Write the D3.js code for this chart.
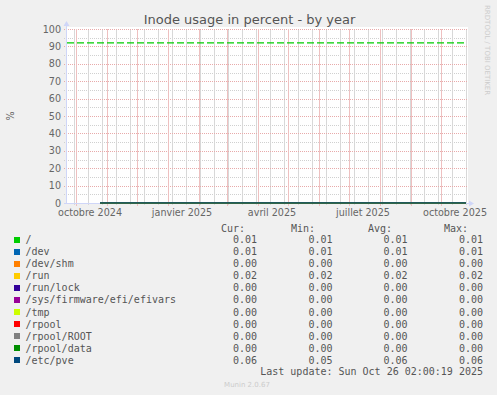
<!DOCTYPE html>
<html><head><meta charset="utf-8">
<script src="https://cdn.jsdelivr.net/npm/d3@7"></script>
<style>
html,body{margin:0;padding:0;background:#F0F0F0;}
svg{display:block;}
</style></head>
<body>
<script>
// ---- data ----
const title = "Inode usage in percent - by year";
const yLabel = "%";
const yTicks = [0,10,20,30,40,50,60,70,80,90,100];
const yMinorTicks = [5,15,25,35,45,55,65,75,85,95];
const xLabelTexts = ["octobre 2024","janvier 2025","avril 2025","juillet 2025","octobre 2025"];
const xLabelDates = ["2024-10-15","2025-01-15","2025-04-15","2025-07-15","2025-10-15"];
const timeStart = "2024-09-22T00:00:00Z";
const timeEnd = "2025-10-27T00:00:00Z";
const warningLevels = [92];

const seriesNames = ["/","/dev","/dev/shm","/run","/run/lock","/sys/firmware/efi/efivars","/tmp","/rpool","/rpool/ROOT","/rpool/data","/etc/pve"];
const seriesColors = ["#00CC00","#0066B3","#FF8000","#FFCC00","#330099","#990099","#CCFF00","#FF0000","#808080","#008F00","#00487D"];
const curValues = ["0.01","0.01","0.00","0.02","0.00","0.00","0.00","0.00","0.00","0.00","0.06"];
const minValues = ["0.01","0.01","0.00","0.02","0.00","0.00","0.00","0.00","0.00","0.00","0.05"];
const avgValues = ["0.01","0.01","0.00","0.02","0.00","0.00","0.00","0.00","0.00","0.00","0.06"];
const maxValues = ["0.01","0.01","0.00","0.02","0.00","0.00","0.00","0.00","0.00","0.00","0.06"];

const sampleDates = ["2024-10-25","2024-11-25","2024-12-25","2025-01-25","2025-02-25","2025-03-25","2025-04-25","2025-05-25","2025-06-25","2025-07-25","2025-08-25","2025-09-25","2025-10-26"];
const seriesValues = [
  [0.01,0.01,0.01,0.01,0.01,0.01,0.01,0.01,0.01,0.01,0.01,0.01,0.01],
  [0.01,0.01,0.01,0.01,0.01,0.01,0.01,0.01,0.01,0.01,0.01,0.01,0.01],
  [0.00,0.00,0.00,0.00,0.00,0.00,0.00,0.00,0.00,0.00,0.00,0.00,0.00],
  [0.02,0.02,0.02,0.02,0.02,0.02,0.02,0.02,0.02,0.02,0.02,0.02,0.02],
  [0.00,0.00,0.00,0.00,0.00,0.00,0.00,0.00,0.00,0.00,0.00,0.00,0.00],
  [0.00,0.00,0.00,0.00,0.00,0.00,0.00,0.00,0.00,0.00,0.00,0.00,0.00],
  [0.00,0.00,0.00,0.00,0.00,0.00,0.00,0.00,0.00,0.00,0.00,0.00,0.00],
  [0.00,0.00,0.00,0.00,0.00,0.00,0.00,0.00,0.00,0.00,0.00,0.00,0.00],
  [0.00,0.00,0.00,0.00,0.00,0.00,0.00,0.00,0.00,0.00,0.00,0.00,0.00],
  [0.00,0.00,0.00,0.00,0.00,0.00,0.00,0.00,0.00,0.00,0.00,0.00,0.00],
  [0.05,0.06,0.06,0.06,0.06,0.06,0.06,0.06,0.06,0.06,0.06,0.06,0.06]
];
const footerUpdate = "Last update: Sun Oct 26 02:00:19 2025";
const footerVersion = "Munin 2.0.67";
const sideText = "RRDTOOL / TOBI OETIKER";

// ---- layout ----
const W = 497, H = 395;
const L = 67, R = 467, T = 29, B = 203;
const fontSans = "'DejaVu Sans', sans-serif";
const fontMono = "'DejaVu Sans Mono', monospace";

const svg = d3.select("body").append("svg").attr("width", W).attr("height", H);
svg.append("rect").attr("width", W).attr("height", H).attr("fill", "#F0F0F0");

const x = d3.scaleUtc().domain([new Date(timeStart), new Date(timeEnd)]).range([L, R]);
const y = d3.scaleLinear().domain([0, 100]).range([B, T]);

// canvas
svg.append("rect").attr("x", L).attr("y", T - 2).attr("width", R - L + 1).attr("height", B - T + 2).attr("fill", "#FFFFFF");

const minorColorH = "#d0d0d0", majorColorH = "#e8aaaa";
const minorColorV = "#d8d8d8", majorColorV = "#eec0c0";
const grid = svg.append("g");
const px = v => Math.round(v) + 0.5;
// minor horizontal
grid.selectAll(".hmin").data(yMinorTicks).enter().append("line")
  .attr("x1", L - 3).attr("x2", R).attr("y1", d => px(y(d))).attr("y2", d => px(y(d)))
  .attr("stroke", minorColorH).attr("stroke-dasharray", "1,1");
// minor vertical (every 2 weeks)
const minorDates = d3.utcDay.range(new Date("2024-09-29T00:00:00Z"), new Date(timeEnd), 1)
  .filter(d => Math.round((d - new Date("2024-09-29T00:00:00Z")) / 864e5) % 14 === 0);
grid.selectAll(".vmin").data(minorDates).enter().append("line")
  .attr("x1", d => px(x(d))).attr("x2", d => px(x(d)))
  .attr("y1", T).attr("y2", B + 2)
  .attr("stroke", minorColorV);
// major horizontal
grid.selectAll(".hmaj").data(yTicks).enter().append("line")
  .attr("x1", L - 3).attr("x2", R).attr("y1", d => px(y(d))).attr("y2", d => px(y(d)))
  .attr("stroke", majorColorH).attr("stroke-dasharray", "1,1");
// major vertical (months)
const monthDates = d3.utcMonth.range(new Date(timeStart), new Date(timeEnd));
grid.selectAll(".vmaj").data(monthDates).enter().append("line")
  .attr("x1", d => px(x(d))).attr("x2", d => px(x(d)))
  .attr("y1", T).attr("y2", B + 3)
  .attr("stroke", majorColorV);

// warning line
svg.selectAll(".warn").data(warningLevels).enter().append("line")
  .attr("x1", L).attr("x2", R - 3).attr("y1", d => y(d)).attr("y2", d => y(d))
  .attr("stroke", "#00CC00").attr("stroke-width", 1.3).attr("stroke-dasharray", "7,3");

// axes
const axisColor = "#CFD6F8";
svg.append("line").attr("x1", L - 0.5).attr("x2", L - 0.5).attr("y1", B + 0.5).attr("y2", T - 6)
  .attr("stroke", axisColor).attr("stroke-width", 1);
svg.append("line").attr("x1", L - 3).attr("x2", R + 2).attr("y1", B + 0.5).attr("y2", B + 0.5)
  .attr("stroke", axisColor).attr("stroke-width", 1);
svg.append("path").attr("d", `M${L-3.5},${T-3} L${L+2.5},${T-3} L${L-0.5},${T-8} Z`).attr("fill", axisColor);
svg.append("path").attr("d", `M${R+2},${B-2.5} L${R+2},${B+3.5} L${R+7},${B+0.5} Z`).attr("fill", axisColor);

// series lines
const parsedDates = sampleDates.map(s => new Date(s + "T00:00:00Z"));
const lineGen = d3.line().x(d => x(d[0])).y(d => y(d[1]));
seriesValues.forEach((vals, i) => {
  svg.append("path")
    .datum(vals.map((v, j) => [parsedDates[j], v]))
    .attr("d", lineGen).attr("fill", "none")
    .attr("stroke", seriesColors[i]).attr("stroke-width", 1);
});

// y tick labels
svg.selectAll(".ylab").data(yTicks).enter().append("text")
  .attr("x", 61).attr("y", d => y(d) + 3.5).attr("text-anchor", "end")
  .attr("font-family", fontSans).attr("font-size", "9.6px").attr("fill", "#666666")
  .text(d => d);

// x labels
svg.selectAll(".xlab").data(xLabelTexts).enter().append("text")
  .attr("x", (d, i) => x(new Date(xLabelDates[i] + "T00:00:00Z"))).attr("y", 216)
  .attr("text-anchor", "middle")
  .attr("font-family", fontSans).attr("font-size", "9.6px").attr("fill", "#666666")
  .text(d => d);

// title
svg.append("text").attr("x", 249.5).attr("y", 24).attr("text-anchor", "middle")
  .attr("font-family", fontSans).attr("font-size", "13px").attr("fill", "#555555").text(title);

// y label
svg.append("text").attr("transform", `translate(13.5,${(T + B) / 2}) rotate(-90)`)
  .attr("text-anchor", "middle").attr("font-family", fontSans).attr("font-size", "9.6px")
  .attr("fill", "#666666").text(yLabel);

// side text
svg.append("text").attr("transform", "translate(485,5) rotate(90)")
  .attr("text-anchor", "start").attr("font-family", fontSans).attr("font-size", "7px")
  .attr("fill", "#cccccc").text(sideText);

// legend
const legY0 = 239.5, legStep = 12.07;
const colsRight = [257, 332.5, 407.5, 483];
const headRight = [245, 315, 392, 468];
const headers = ["Cur:","Min:","Avg:","Max:"];
const valueCols = [curValues, minValues, avgValues, maxValues];
const leg = svg.append("g").attr("font-family", fontMono).attr("font-size", "10px").attr("fill", "#555555");
headers.forEach((h, k) => {
  leg.append("text").attr("x", headRight[k]).attr("y", 228.3 + 3.6).attr("text-anchor", "end").text(h);
});
seriesNames.forEach((name, i) => {
  const cy = legY0 + i * legStep;
  svg.append("rect").attr("x", 14).attr("y", Math.round(cy - 3)).attr("width", 6).attr("height", 6)
    .attr("fill", seriesColors[i]);
  leg.append("text").attr("x", 25.5).attr("y", cy + 3.6).text(name);
  valueCols.forEach((col, k) => {
    leg.append("text").attr("x", colsRight[k]).attr("y", cy + 3.6).attr("text-anchor", "end").text(col[i]);
  });
});
leg.append("text").attr("x", 483).attr("y", 371 + 3.6).attr("text-anchor", "end").text(footerUpdate);

svg.append("text").attr("x", 247).attr("y", 386.5).attr("text-anchor", "middle")
  .attr("font-family", fontSans).attr("font-size", "7px").attr("fill", "#cccccc").text(footerVersion);
</script>
</body></html>
